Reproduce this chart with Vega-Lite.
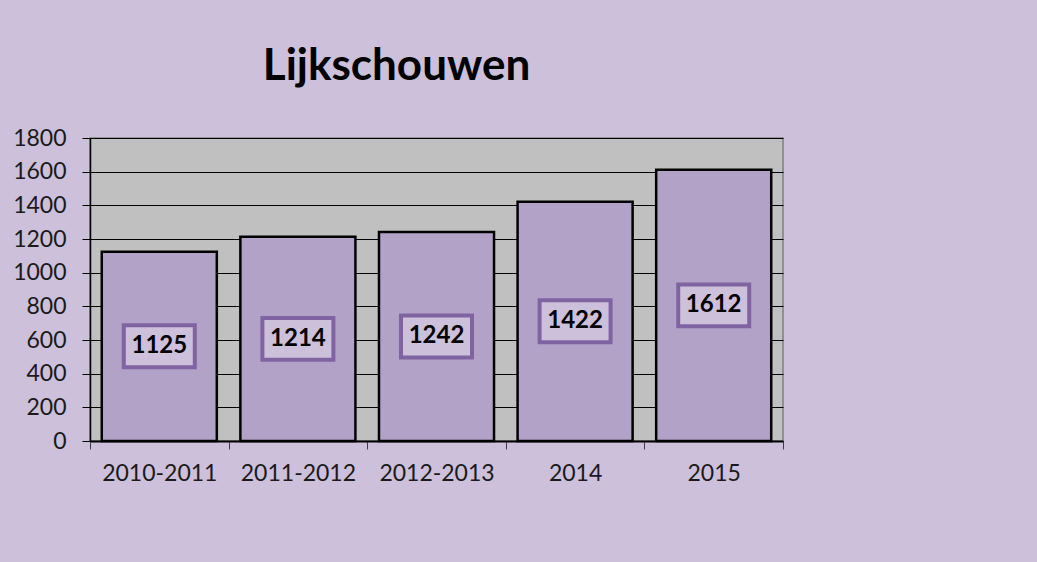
{
  "$schema": "https://vega.github.io/schema/vega-lite/v6.json",
  "width": 693,
  "height": 303,
  "autosize": {"type": "none"},
  "padding": {"left": 90, "top": 138, "right": 254, "bottom": 121},
  "background": "#CCC0DA",
  "title": {
    "text": "Lijkschouwen",
    "font": "Lato",
    "fontSize": 44,
    "fontWeight": "bold",
    "color": "#000000",
    "anchor": "middle",
    "frame": "group",
    "baseline": "alphabetic",
    "offset": 58,
    "dx": -40,
    "dy": 55
  },
  "config": {
    "view": {"fill": "#C0C0C0", "stroke": "#808080", "strokeWidth": 1.5},
    "font": "Lato"
  },
  "data": {
    "values": [
      {"periode": "2010-2011", "aantal": 1125},
      {"periode": "2011-2012", "aantal": 1214},
      {"periode": "2012-2013", "aantal": 1242},
      {"periode": "2014", "aantal": 1422},
      {"periode": "2015", "aantal": 1612}
    ]
  },
  "encoding": {
    "x": {
      "field": "periode",
      "type": "nominal",
      "sort": null,
      "scale": {"paddingInner": 0, "paddingOuter": 0},
      "axis": {
        "title": null,
        "labelAngle": 0,
        "labelFont": "Lato",
        "labelFontSize": 23,
        "labelColor": "#1a1a1a",
        "labelPadding": 13,
        "tickBand": "extent",
        "tickSize": 8,
        "tickColor": "#404040",
        "tickWidth": 1,
        "domainColor": "#000000",
        "domainWidth": 2,
        "grid": false
      }
    }
  },
  "layer": [
    {
      "mark": {"type": "bar", "width": {"band": 0.83}, "fill": "#B3A2C7", "stroke": "#000000", "strokeWidth": 2.5},
      "encoding": {
        "y": {
          "field": "aantal",
          "type": "quantitative",
          "scale": {"domain": [0, 1800]},
          "axis": {
            "title": null,
            "format": "d",
            "values": [0, 200, 400, 600, 800, 1000, 1200, 1400, 1600, 1800],
            "labelFont": "Lato",
            "labelFontSize": 23,
            "labelColor": "#1a1a1a",
            "labelPadding": 16,
            "tickSize": 8,
            "tickColor": "#000000",
            "domainColor": "#000000",
            "domainWidth": 1.5,
            "grid": true,
            "gridColor": "#000000",
            "gridWidth": 1,
            "gridOpacity": 1
          }
        }
      }
    },
    {
      "layer": [
        {
          "mark": {
            "type": "point",
            "shape": "M-1,-0.59H1V0.59H-1Z",
            "size": 5041,
            "filled": false,
            "fill": "#CCC0DA",
            "fillOpacity": 1,
            "stroke": "#8064A2",
            "strokeWidth": 4,
            "opacity": 1
          }
        },
        {
          "mark": {"type": "text", "font": "Lato", "fontSize": 24, "fontWeight": "bold", "color": "#000000", "baseline": "middle", "align": "center"},
          "encoding": {"text": {"field": "aantal", "type": "quantitative"}}
        }
      ],
      "encoding": {
        "y": {
          "field": "aantal",
          "type": "quantitative",
          "scale": {"domain": [0, 3600]},
          "axis": null
        }
      }
    }
  ],
  "resolve": {"scale": {"y": "independent"}}
}
